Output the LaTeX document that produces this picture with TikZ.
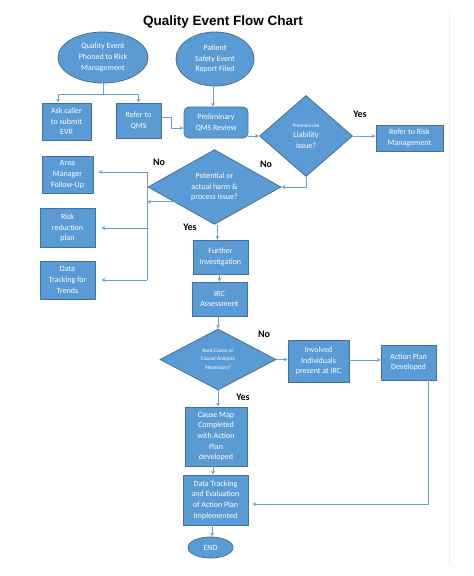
\documentclass[tikz,border=0pt]{standalone}
\usepackage{fontspec}
\setmainfont{Carlito}
\newfontfamily\titlefont{Liberation Sans}
\usetikzlibrary{shapes.geometric}
\definecolor{boxblue}{HTML}{5B9BD5}
\definecolor{edgeblue}{HTML}{41719C}
\definecolor{lineblue}{HTML}{6A9FD8}
\begin{document}
\begin{tikzpicture}[x=1pt,y=-1pt,font=\fontsize{8}{10.6}\selectfont,
  blk/.style={draw=edgeblue,fill=boxblue,text=white,align=center,inner sep=0pt,line width=0.8pt},
  sz/.style 2 args={minimum width=#1pt,minimum height=#2pt},
  box/.style={blk,rectangle},
  oval/.style={blk,ellipse},
  ask/.style={blk,diamond},
  lnk/.style={draw=lineblue,line width=0.8pt},
  arr/.style={lnk,-stealth},
  lbl/.style={font=\bfseries\fontsize{10}{12}\selectfont},
  tiny/.style={font=\fontsize{5.5}{8.6}\selectfont}]
\useasboundingbox (0,0) rectangle (474,576);
\draw[black!6](449,11)--(449,564);
\node[font=\titlefont\bfseries\fontsize{13.5}{16}\selectfont] (title) at (223,22) {Quality Event Flow Chart};
% top row
\node[oval,sz={90}{51}] (phone) at (103,57.5) {Quality Event\\Phoned to Risk\\Management};
\node[oval,sz={78}{54}] (psr) at (215,59) {Patient\\Safety Event\\Report Filed};
\node[box,sz={49}{37}] (evr) at (66.5,121.5) {Ask caller\\to submit\\EVR};
\node[box,sz={45}{35}] (qms) at (138.5,120.5) {Refer to\\QMS};
\node[box,rounded corners=5pt,sz={64}{31}] (prelim) at (216,122.5) {Preliminary\\QMS Review};
\node[ask,sz={93}{81}] (liab) at (306,136) {{\tiny Potential risk}\\Liability\\issue?};
\node[box,sz={67}{26}] (rrm) at (409.5,138) {Refer to Risk\\Management};
% harm check
\node[ask,sz={133}{70}] (harm) at (214.5,187) {Potential or\\actual harm \&\\process Issue?};
\node[box,sz={51}{37}] (area) at (67.5,174.5) {Area\\Manager\\Follow-Up};
\node[box,sz={55}{39}] (plan) at (67.5,228) {Risk\\reduction\\plan};
\node[box,sz={55}{38}] (trend) at (67.5,280) {Data\\Tracking for\\Trends};
\node[box,sz={55}{34}] (inv) at (220.5,257) {Further\\Investigation};
\node[box,sz={55}{34}] (irc) at (219.5,299) {IRC\\Assessment};
% root cause
\node[ask,sz={116}{61},tiny] (root) at (218,359.5) {Root Cause or\\Causal Analysis\\Necessary?};
\node[box,sz={61}{42}] (ind) at (318.5,361) {Involved\\Individuals\\present at IRC};
\node[box,sz={55}{35}] (apd) at (408.5,362.5) {Action Plan\\Developed};
\node[box,sz={62}{59}] (cmap) at (216,436.5) {Cause Map\\Completed\\with Action\\Plan\\developed};
\node[box,sz={65}{50}] (eval) at (215.5,500) {Data Tracking\\and Evaluation\\of Action Plan\\Implemented};
\node[oval,sz={45}{21}] (end) at (210.5,547.5) {END};
% yes / no
\node[lbl] (y1) at (360,114) {Yes};
\node[lbl] (n1) at (266,164) {No};
\node[lbl] (n2) at (159,162) {No};
\node[lbl] (y2) at (190,227) {Yes};
\node[lbl] (n3) at (264,334) {No};
\node[lbl] (y3) at (243,397) {Yes};
% connectors
\coordinate (j1) at (103,94);
\coordinate (bus) at (147,172);
\draw[lnk] (phone.south)--(j1);
\draw[arr] (j1)-|([xshift=-8.5pt]evr.north);
\draw[arr] (j1)-|(qms.north);
\draw[arr] ([xshift=-2pt]psr.south)--([xshift=-2pt]psr.south|-prelim.north);
\draw[arr] ([yshift=3.5pt]qms.east)--++(10,0)|-([yshift=-5.5pt]prelim.west);
\draw[arr] (prelim.east|-liab.west)--(liab.west);
\draw[arr] (liab.east)--(liab.east-|rrm.west);
\draw[arr] (liab.south)|-(harm.east);
\draw[arr] (harm.200)--(harm.200-|bus);
\draw[lnk] (bus)--(bus|-trend.east);
\draw[arr,shorten >=5pt] (bus)--(bus-|area.east);
\draw[arr,shorten >=6pt] (bus|-plan.east)--(plan.east);
\draw[arr,shorten >=6pt] (bus|-trend.east)--(trend.east);
\draw[arr] ([xshift=3pt]harm.south)--([xshift=3pt]harm.south|-inv.north);
\draw[arr] ([xshift=-1pt]inv.south)--([xshift=-1pt]inv.south|-irc.north);
\draw[arr] (root.north|-irc.south)--(root.north);
\draw[arr] (root.east)--(root.east-|ind.west);
\draw[arr] ([yshift=1pt]ind.east)--([yshift=1pt]ind.east-|apd.west);
\draw[arr,shorten >=4pt] ([xshift=19.5pt]apd.south)|-([yshift=-4pt]eval.east);
\draw[arr] (root.south)--(root.south|-cmap.north);
\draw[arr] ([xshift=-3pt]cmap.south)--([xshift=-3pt]cmap.south|-eval.north);
\draw[arr] ([xshift=-3.5pt]eval.south)--([xshift=-3.5pt]eval.south|-end.north);
\end{tikzpicture}
\end{document}
